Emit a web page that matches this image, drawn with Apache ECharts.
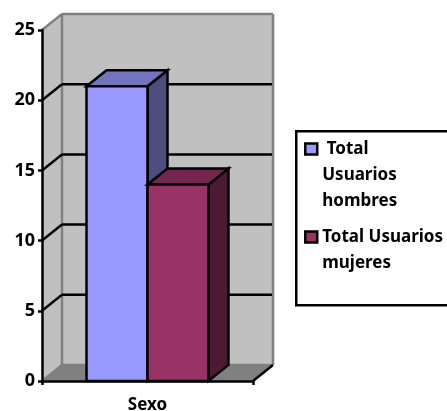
<!DOCTYPE html>
<html>
<head>
<meta charset="utf-8">
<style>html,body{margin:0;padding:0;background:#fff}#c{width:447px;height:411px}</style>
<script src="https://cdn.jsdelivr.net/npm/echarts@6/dist/echarts.min.js"></script>
</head>
<body>
<div id="c"></div>
<script>
const categories = ['Sexo'];
const hombres = [21];
const mujeres = [14];
const yTicks = [0, 5, 10, 15, 20, 25];
const seriesNames = ['Total Usuarios hombres', 'Total Usuarios mujeres'];
const legendTexts = ['\n\n Total\nUsuarios\nhombres', '\nTotal Usuarios\nmujeres'];

const DX = 20, DY = -16, FONT = '"Noto Sans", sans-serif', LW = 2.5;
const barShare = 0.289;

function walls(params, api) {
  const tl = api.coord([0, 25]);
  const bl = api.coord([0, 0]);
  const w = api.size([1, 0])[0];
  const xL = tl[0] - w / 2, xR = xL + w, yT = tl[1], yB = bl[1];
  const kids = [
    poly([[xL, yT], [xL + DX, yT + DY], [xL + DX, yB + DY], [xL, yB]], '#C0C0C0', null),
    poly([[xL + DX, yT + DY], [xR + DX, yT + DY], [xR + DX, yB + DY], [xL + DX, yB + DY]], '#C0C0C0', null),
    poly([[xL, yB], [xR, yB], [xR + DX, yB + DY], [xL + DX, yB + DY]], '#808080', null),
    line(xL, yT, xL + DX, yT + DY, '#808080'),
    line(xL + DX, yT + DY, xR + DX, yT + DY, '#808080'),
    line(xL + DX, yT + DY, xL + DX, yB + DY, '#808080'),
    line(xR + DX, yT + DY, xR + DX, yB + DY, '#808080'),
    line(xL, yB, xL + DX, yB + DY, '#808080'),
    line(xL + DX, yB + DY, xR + DX, yB + DY, '#808080'),
    line(xR, yB, xR + DX, yB + DY, '#000')
  ];
  yTicks.filter(t => t > 0 && t < 25).forEach(t => {
    const y = api.coord([0, t])[1];
    kids.push(line(xL, y, xL + DX, y + DY, '#000'));
    kids.push(line(xL + DX, y + DY, xR + DX - 1, y + DY, '#000'));
  });
  return { type: 'group', children: kids };
}
function poly(points, fill, stroke) {
  return { type: 'polygon', shape: { points }, style: { fill, stroke: stroke || 'none', lineWidth: LW, lineJoin: 'miter' } };
}
function line(x1, y1, x2, y2, stroke) {
  return { type: 'line', shape: { x1, y1, x2, y2 }, style: { stroke, lineWidth: LW } };
}
function bar3d(side, colors) {
  return function (params, api) {
    const base = api.coord([api.value(0), 0]);
    const top = api.coord([api.value(0), api.value(1)]);
    const bw = api.size([1, 0])[0] * barShare;
    const x0 = side < 0 ? base[0] - bw : base[0];
    const x1 = x0 + bw, y0 = top[1], y1 = base[1];
    return { type: 'group', children: [
      poly([[x1, y0], [x1 + DX, y0 + DY], [x1 + DX, y1 + DY], [x1, y1]], colors[2], '#000'),
      poly([[x0, y0], [x0 + DX, y0 + DY], [x1 + DX, y0 + DY], [x1, y0]], colors[1], '#000'),
      poly([[x0, y0], [x1, y0], [x1, y1], [x0, y1]], colors[0], '#000')
    ] };
  };
}
const legendBase = {
  orient: 'vertical', padding: 0, itemWidth: 12, itemHeight: 11, itemGap: 0, selectedMode: false,
  icon: 'rect',
  itemStyle: { borderColor: '#000', borderWidth: 2.5 },
  textStyle: { fontFamily: FONT, fontWeight: 'bold', fontSize: 17, lineHeight: 26, color: '#000' }
};
const chart = echarts.init(document.getElementById('c'));
chart.setOption({
  animation: false,
  backgroundColor: '#fff',
  grid: { left: 42, top: 30, width: 211, height: 351, outerBoundsMode: 'none' },
  xAxis: {
    type: 'category', data: categories, z: 5,
    axisLine: { lineStyle: { color: '#000', width: 2.5 } },
    axisTick: { show: true, length: 4, lineStyle: { color: '#000', width: 2.5 } },
    axisLabel: { color: '#000', fontFamily: FONT, fontWeight: 'bold', fontSize: 17, margin: 15.5 }
  },
  yAxis: {
    type: 'value', min: 0, max: 25, interval: 5, z: 5,
    axisLine: { show: true, lineStyle: { color: '#000', width: 2.5 } },
    axisTick: { show: true, length: 4, lineStyle: { color: '#000', width: 2.5 } },
    splitLine: { show: false },
    axisLabel: { color: '#000', fontFamily: FONT, fontWeight: 'bold', fontSize: 18, margin: 7 }
  },
  legend: [
    Object.assign({}, legendBase, { left: 304, top: 84, data: [seriesNames[0]], formatter: () => legendTexts[0] }),
    Object.assign({}, legendBase, { left: 304, top: 198, data: [seriesNames[1]], formatter: () => legendTexts[1] })
  ],
  graphic: [{
    type: 'rect', left: 295, top: 130, z: 1,
    shape: { width: 160, height: 174 },
    style: { fill: '#fff', stroke: '#000', lineWidth: 2.5 }
  }],
  series: [
    { type: 'custom', silent: true, renderItem: walls, data: [[0, 25]], z: 1, encode: { x: 0, y: 1 } },
    { type: 'custom', name: seriesNames[0], renderItem: bar3d(-1, ['#9999FF', '#7373BF', '#4D4D80']), data: hombres.map((v, i) => [i, v]), itemStyle: { color: '#9999FF' }, z: 2, encode: { x: 0, y: 1 } },
    { type: 'custom', name: seriesNames[1], renderItem: bar3d(1, ['#993366', '#732650', '#4D1A33']), data: mujeres.map((v, i) => [i, v]), itemStyle: { color: '#993366' }, z: 3, encode: { x: 0, y: 1 } }
  ]
});
</script>
</body>
</html>
